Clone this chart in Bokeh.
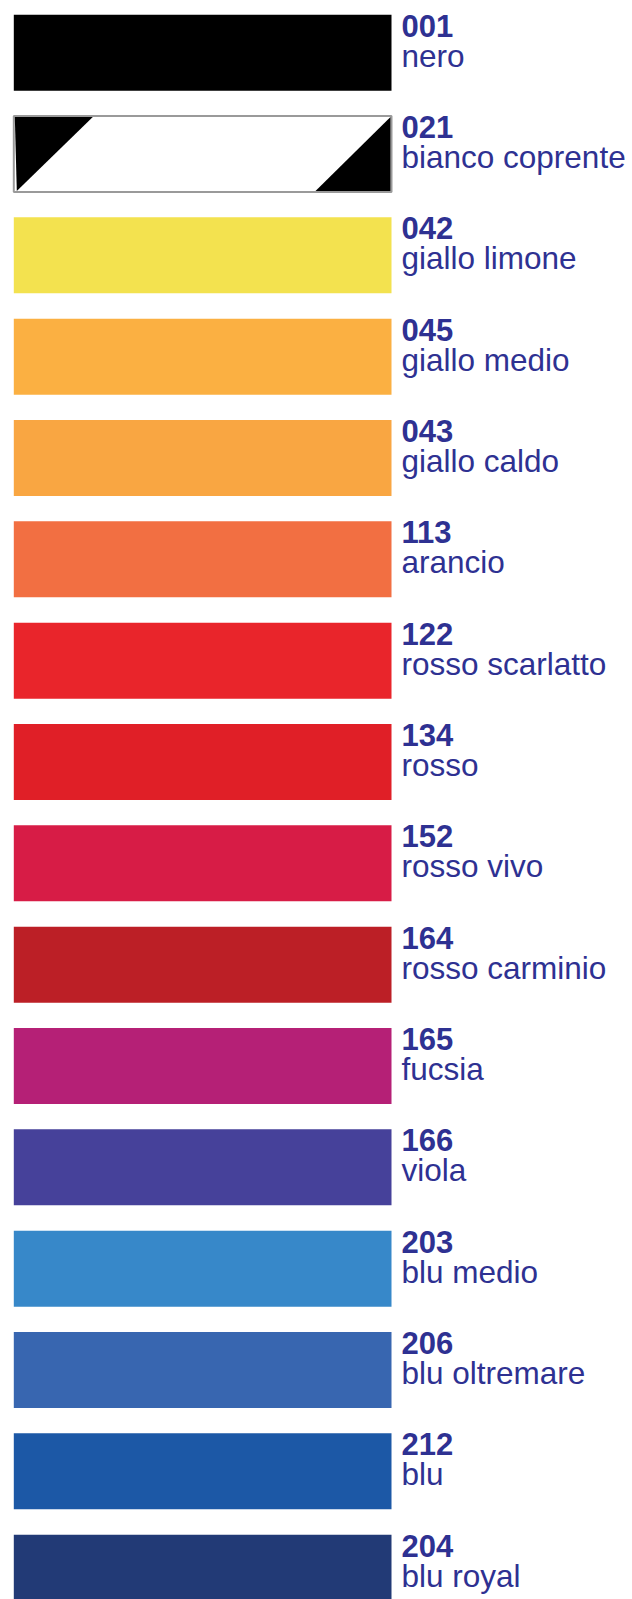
from bokeh.plotting import figure
from bokeh.models import ColumnDataSource, Range1d
from bokeh.core.properties import value
from bokeh.embed import file_html
from bokeh.resources import INLINE

# ---- data ----
codes = ["001", "021", "042", "045", "043", "113", "122", "134",
         "152", "164", "165", "166", "203", "206", "212", "204"]
names = ["nero", "bianco coprente", "giallo limone", "giallo medio",
         "giallo caldo", "arancio", "rosso scarlatto", "rosso",
         "rosso vivo", "rosso carminio", "fucsia", "viola",
         "blu medio", "blu oltremare", "blu", "blu royal"]
colors = ["#000000", "#ffffff", "#f3e24f", "#fbb042", "#f9a642", "#f26f42",
          "#e9252b", "#e01f27", "#d71c46", "#bc1f26", "#b52076", "#46419a",
          "#3788c9", "#3866b0", "#1c58a6", "#223a76"]

# ---- layout ----
W, H = 632, 1599
TOP0 = 14.2        # first swatch top
PITCH = 101.33
BAR_H = 76
BAR_L = 13.3
BAR_R = 391
TXT_X = 401
TXT_COLOR = "#2e3192"
FONT = "Liberation Sans"

n = len(codes)
tops = [TOP0 + i * PITCH for i in range(n)]
bottoms = [t + BAR_H for t in tops]

p = figure(width=W, height=H, output_backend="svg", toolbar_location=None,
           x_range=Range1d(0, W), y_range=Range1d(H, 0),
           min_border=0, outline_line_color=None, background_fill_color="white",
           border_fill_color="white")
p.axis.visible = False
p.grid.visible = False

src = ColumnDataSource(dict(left=[BAR_L] * n, right=[BAR_R] * n, top=tops,
                            bottom=bottoms, color=colors,
                            line=["#9a9a9a" if c == "#ffffff" else c for c in colors],
                            lw=[2 if c == "#ffffff" else 0 for c in colors]))
p.quad(left="left", right="right", top="top", bottom="bottom", fill_color="color",
       line_color="line", line_width="lw", source=src)

# diagonal black corners of the white (bianco coprente) swatch
wi = colors.index("#ffffff")
t, b = tops[wi] + 1, bottoms[wi] - 1
l, r = BAR_L + 1, BAR_R - 1
p.patches(xs=[[l, l + 78, l + 2], [r - 75, r, r]],
          ys=[[t, t, b], [b, b, t]],
          fill_color="black", line_color=None)

code_y = [t + 11 for t in tops]
name_y = [t + 41 for t in tops]
p.text(x=[TXT_X] * n, y=code_y, text=codes, text_font=value(FONT),
       text_font_style="bold", text_font_size="31px", text_color=TXT_COLOR,
       text_baseline="alphabetic", text_align="left")
p.text(x=[TXT_X] * n, y=name_y, text=names, text_font=value(FONT),
       text_font_size="31.5px", text_color=TXT_COLOR,
       text_baseline="alphabetic", text_align="left")

open("out.html", "w").write(file_html(p, INLINE))
